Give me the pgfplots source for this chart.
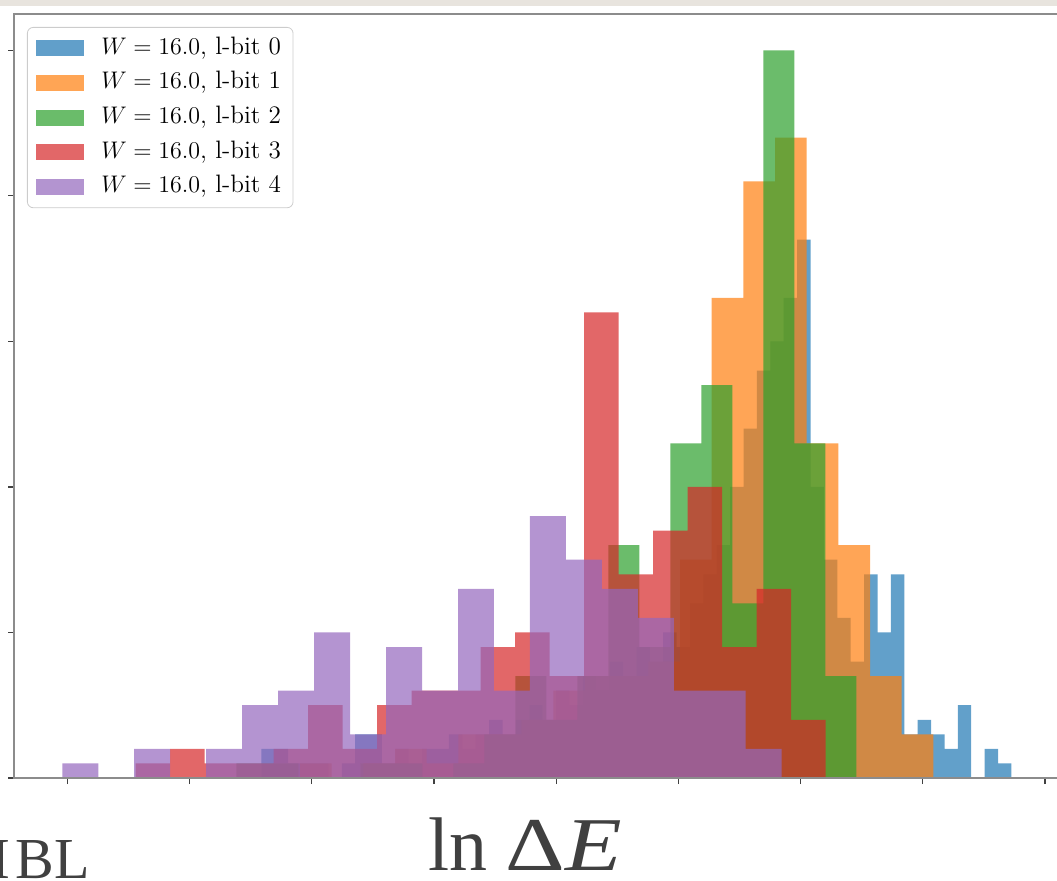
\documentclass[border=0pt]{standalone}
\usepackage{pgfplots}
\pgfplotsset{compat=1.18}
\usepackage{fontspec}
\newfontfamily\libserif{Liberation Serif}
\definecolor{cA}{HTML}{1F77B4}
\definecolor{cB}{HTML}{FF7F0E}
\definecolor{cC}{HTML}{2CA02C}
\definecolor{cD}{HTML}{D62728}
\definecolor{cE}{HTML}{9467BD}
\definecolor{strip}{HTML}{E8E4DE}
\definecolor{labgray}{HTML}{404040}
\begin{document}
\begin{tikzpicture}
\useasboundingbox (0,0) rectangle (528.5pt,440pt);
\clip (0,0) rectangle (528.5pt,440pt);
\fill[strip] (0,437pt) rectangle (528.5pt,440pt);
\begin{axis}[
  at={(7pt,51pt)}, anchor=south west,
  scale only axis, width=522.75pt, height=382pt,
  xmin=14, xmax=1059.5, ymin=0, ymax=52.5,
  xtick={67.3,189.5,311.7,433.9,556.1,678.3,800.5,922.7,1044.9},
  ytick={0,10,20,30,40,50},
  xticklabels={}, yticklabels={},
  tick align=outside, xtick pos=bottom, ytick pos=left,
  major tick length=3pt,
  tick style={black!75, line width=0.6pt},
  axis line style={black!45, line width=0.8pt},
  axis on top,
  legend cell align=left,
  legend style={at={(0.0124,0.983)}, anchor=north west, draw=black!20,
    rounded corners=3pt, fill=white, font=\fontsize{12.6}{14}\selectfont,
    inner xsep=4.5pt, inner ysep=3pt, row sep=2.3pt,
    nodes={inner sep=1.5pt, text height=9pt, text depth=3pt}},
  legend image code/.code={\path (0pt,0pt) (31pt,0pt);
    \fill[#1, sharp corners] (0pt,-4pt) rectangle (24pt,4pt);},
]
% l-bit 0 (blue)
\addplot[const plot, fill=cA, fill opacity=0.7, draw=none] coordinates {
(261.4,2)(274.8,2)(288.2,1)(301.6,1)(315.0,1)(328.4,0)(341.8,1)(355.2,3)(368.5,3)(381.9,1)
(395.3,2)(408.7,1)(422.1,2)(435.5,2)(448.9,3)(462.3,2)(475.7,3)(489.1,4)(502.5,3)(515.9,4)
(529.3,5)(542.7,4)(556.0,6)(569.4,5)(582.8,7)(596.2,6)(609.6,8)(623.0,7)(636.4,9)(649.8,8)
(663.2,10)(676.6,9)(690.0,12)(703.4,14)(716.8,16)(730.2,20)(743.5,24)(756.9,28)(770.3,30)(783.7,33)
(797.1,37)(810.5,20)(823.9,15)(837.3,11)(850.7,8)(864.1,14)(877.5,10)(890.9,14)(904.3,3)(917.7,4)
(931.1,3)(944.5,2)(957.8,5)(971.2,0)(984.6,2)(998.0,1)(1011.4,1)} \closedcycle;
\addlegendentry{$W=16.0$, l-bit 0}
% l-bit 1 (orange)
\addplot[const plot, fill=cB, fill opacity=0.7, draw=none] coordinates {
(300.0,1)(331.7,0)(363.3,1)(395.0,2)(426.7,1)(458.4,3)(490.0,3)(521.7,4)(553.4,6)(585.0,7)
(616.7,7)(648.4,8)(680.0,15)(711.7,33)(743.4,41)(775.0,44)(806.7,23)(838.4,16)(870.0,7)(901.7,3)
(933.4,3)} \closedcycle;
\addlegendentry{$W=16.0$, l-bit 1}
% l-bit 2 (green)
\addplot[const plot, fill=cC, fill opacity=0.7, draw=none] coordinates {
(236.3,1)(267.3,1)(298.3,0)(329.3,0)(360.3,1)(391.3,1)(422.3,0)(453.3,1)(484.3,3)(515.3,7)
(546.3,4)(577.3,7)(608.3,16)(639.3,9)(670.3,23)(701.3,27)(732.3,12)(763.3,50)(794.3,23)(825.3,7)
(856.3,7)} \closedcycle;
\addlegendentry{$W=16.0$, l-bit 2}
% l-bit 3 (red)
\addplot[const plot, fill=cD, fill opacity=0.7, draw=none] coordinates {
(135.5,1)(170.0,2)(204.5,1)(239.0,1)(273.5,2)(308.0,5)(342.5,2)(377.0,5)(411.5,6)(446.0,6)
(480.5,9)(515.0,10)(549.5,7)(584.0,32)(618.5,14)(653.0,17)(687.5,20)(722.0,9)(756.5,13)(791.0,4)
(825.5,4)} \closedcycle;
\addlegendentry{$W=16.0$, l-bit 3}
% l-bit 4 (purple)
\addplot[const plot, fill=cE, fill opacity=0.7, draw=none] coordinates {
(62.3,1)(98.3,0)(134.2,2)(170.2,0)(206.2,2)(242.2,5)(278.1,6)(314.1,10)(350.1,3)(386.0,9)
(422.0,6)(458.0,13)(493.9,6)(529.9,18)(565.9,15)(601.9,13)(637.8,11)(673.8,6)(709.8,6)(745.7,2)
(781.7,2)} \closedcycle;
\addlegendentry{$W=16.0$, l-bit 4}
\end{axis}
\node[anchor=base west, inner sep=0pt, text depth=0pt, text=labgray, font=\libserif\fontsize{38}{40}\selectfont] at (214pt,5pt) {ln\hspace{9pt}\scalebox{1.22}[1]{Δ\textit{E}}};
\node[anchor=base west, inner sep=0pt, text=labgray, font=\libserif\fontsize{29}{31}\selectfont] at (-21pt,1pt) {M\kern3pt BL};
\end{tikzpicture}
\end{document}
